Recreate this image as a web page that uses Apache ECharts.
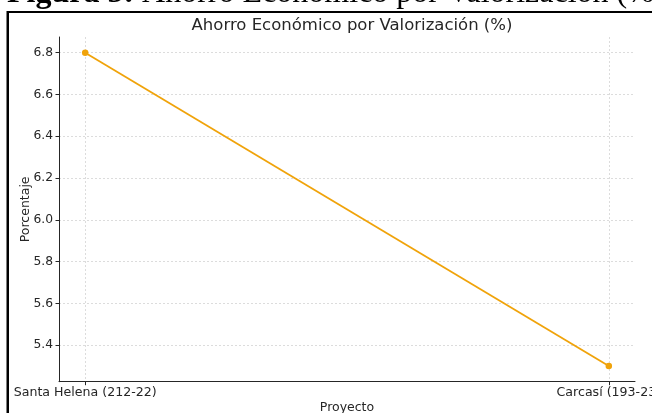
<!DOCTYPE html>
<html>
<head>
<meta charset="utf-8">
<script src="https://cdn.jsdelivr.net/npm/echarts@6/dist/echarts.min.js"></script>
<style>
html,body{margin:0;padding:0;background:#fff;}
#c{width:652px;height:413px;}
</style>
</head>
<body>
<div id="c"></div>
<script>
const categories = ['Santa Helena (212-22)', 'Carcasí (193-23)'];
const values = [6.8, 5.3];
const yTicks = [5.4, 5.6, 5.8, 6.0, 6.2, 6.4, 6.6, 6.8];
const xTicks = [0, 1];

const chart = echarts.init(document.getElementById('c'), null, {renderer: 'canvas'});
const font = 'DejaVu Sans';
const data = categories.map((c, i) => [i, values[i]]);

chart.setOption({
  animation: false,
  backgroundColor: '#fff',
  title: {
    text: 'Ahorro Económico por Valorización (%)',
    left: 347, top: 12, textAlign: 'center',
    textStyle: {fontFamily: font, fontSize: 16.5, fontWeight: 'normal', color: '#262626'}
  },
  grid: {left: 59, right: 17, top: 37, bottom: 31.3, outerBoundsMode: 'none', containLabel: false},
  xAxis: {
    type: 'value', min: -0.05, max: 1.05,
    name: 'Proyecto', nameLocation: 'middle', nameGap: 20, nameMoveOverlap: false,
    nameTextStyle: {fontFamily: font, fontSize: 12.5, color: '#262626'},
    axisLine: {show: true, onZero: false, lineStyle: {color: '#262626', width: 1}},
    axisTick: {show: true, length: 3.5, customValues: xTicks, lineStyle: {color: '#262626'}},
    axisLabel: {customValues: xTicks, margin: 5, fontFamily: font, fontSize: 12.6, color: '#262626',
      hideOverlap: false, formatter: v => categories[Math.round(v)] || ''},
    splitLine: {show: true, lineStyle: {color: '#d4d4d4', type: [2, 2], width: 0.8}}
  },
  yAxis: {
    type: 'value', min: 5.225, max: 6.875,
    name: 'Porcentaje', nameLocation: 'middle', nameGap: 27, nameMoveOverlap: false,
    nameTextStyle: {fontFamily: font, fontSize: 12.5, color: '#262626'},
    axisLine: {show: true, onZero: false, lineStyle: {color: '#262626', width: 1}},
    axisTick: {show: true, length: 3.5, customValues: yTicks, lineStyle: {color: '#262626'}},
    axisLabel: {customValues: yTicks, margin: 6, fontFamily: font, fontSize: 12.3, color: '#262626',
      formatter: v => v.toFixed(1)},
    splitLine: {show: true, lineStyle: {color: '#d4d4d4', type: [2, 2], width: 0.8}}
  },
  series: [{
    type: 'line', data: data,
    symbol: 'circle', symbolSize: 6.5,
    lineStyle: {color: '#f0a30a', width: 1.8},
    itemStyle: {color: '#f0a30a'}
  }],
  graphic: [
    {type: 'text', left: 7, top: -22, z: 10,
      style: {text: '{b|Figura 5:} Ahorro Económico por Valorización (%)',
        font: '32px "Liberation Serif"', fill: '#000',
        rich: {b: {fontWeight: 'bold', fontFamily: 'Liberation Serif', fontSize: 32}}}},
    {type: 'rect', shape: {x: 7, y: 11, width: 660, height: 2}, style: {fill: '#000'}, z: 11},
    {type: 'rect', shape: {x: 6.5, y: 11, width: 2.5, height: 420}, style: {fill: '#000'}, z: 11}
  ]
});
</script>
</body>
</html>
